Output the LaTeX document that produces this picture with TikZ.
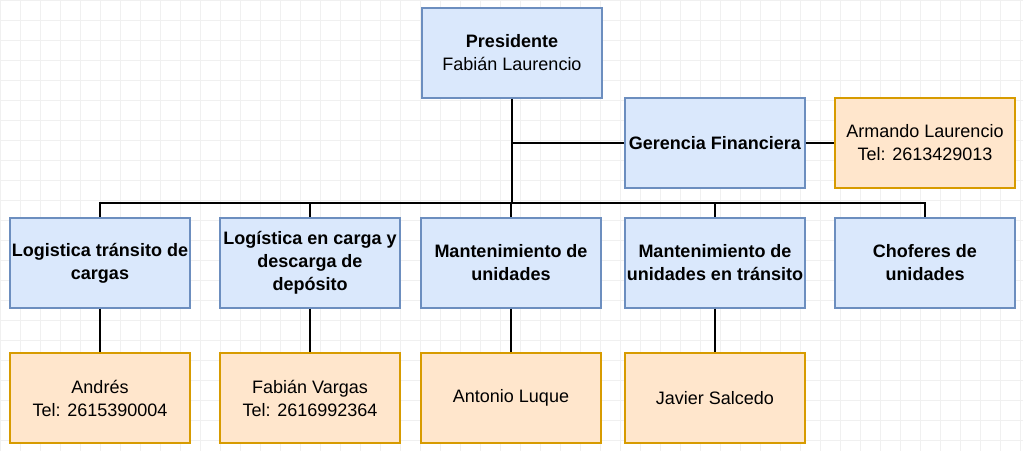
\documentclass[tikz,border=0pt]{standalone}
\usepackage{fontspec}
\setmainfont{Liberation Sans}
\begin{document}
\begin{tikzpicture}[x=1pt,y=-1pt,
 bx/.style={draw={rgb,255:red,108;green,142;blue,191}, fill={rgb,255:red,218;green,232;blue,252}, line width=1.2pt, minimum width=180pt, minimum height=90pt, align=center, font=\fontsize{18}{23}\selectfont, inner sep=1pt},
 ox/.style={bx, draw={rgb,255:red,215;green,155;blue,0}, fill={rgb,255:red,255;green,230;blue,204}},
 ln/.style={line width=1.2pt}]
\useasboundingbox (0,0) rectangle (1023,451);
\draw[black!6, step=20pt] (0,0) grid (1023,451);
\node[bx] (pres) at (512,53) {\textbf{Presidente}\\Fabián Laurencio};
\node[bx] (ger) at (715,143) {\textbf{Gerencia Financiera}};
\node[ox] (arm) at (925,143) {Armando Laurencio\\Tel: 2613429013};
\node[bx] (a) at (100,263) {\textbf{Logistica tránsito de}\\\textbf{cargas}};
\node[bx] (b) at (310,263) {\textbf{Logística en carga y}\\\textbf{descarga de}\\\textbf{depósito}};
\node[bx] (c) at (511,263) {\textbf{Mantenimiento de}\\\textbf{unidades}};
\node[bx] (d) at (715,263) {\textbf{Mantenimiento de}\\\textbf{unidades en tránsito}};
\node[bx] (e) at (925,263) {\textbf{Choferes de}\\\textbf{unidades}};
\node[ox] (a2) at (100,398) {Andrés\\Tel: 2615390004};
\node[ox] (b2) at (310,398) {Fabián Vargas\\Tel: 2616992364};
\node[ox] (c2) at (511,398) {Antonio Luque};
\node[ox] (d2) at (715,398) {Javier Salcedo};
\coordinate (j) at (512,203);
\coordinate (k) at (512,143);
\draw[ln] (pres.south) -- (j);
\draw[ln] (k) -- (ger.west);
\draw[ln] (ger) -- (arm);
\foreach \n in {a,b,c,d,e} \draw[ln] (j) -| (\n.north);
\foreach \n in {a,b,c,d} \draw[ln] (\n) -- (\n2);
\end{tikzpicture}
\end{document}
